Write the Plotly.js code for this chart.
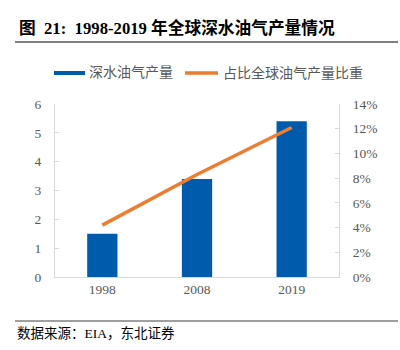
<!DOCTYPE html>
<html>
<head>
<meta charset="utf-8">
<script src="https://cdn.plot.ly/plotly-3.0.1.min.js"></script>
<style>html,body{margin:0;padding:0;background:#fff;}#chart{width:400px;height:350px;}</style>
</head>
<body>
<div id="chart"></div>
<script>
const years = ['1998', '2008', '2019'];
const deepwaterOutput = [1.5, 3.4, 5.4];
const shareOfGlobal = [0.042, 0.083, 0.121];
const leftTicks = [0, 1, 2, 3, 4, 5, 6];
const rightTicks = [0, 0.02, 0.04, 0.06, 0.08, 0.10, 0.12, 0.14];
const titleText = '图  21:  1998-2019 年全球深水油气产量情况';
const seriesNames = ['深水油气产量', '占比全球油气产量比重'];
const sourceText = '数据来源：EIA，东北证券';

const BLUE = '#005BAC', ORANGE = '#ED7D31', AXIS = '#D9D9D9', TXT = '#595959';
// plot area pixel geometry helpers
const L = 55, R = 339, T = 104, B = 277;
const px = x => (x - L) / (R - L);
const py = y => (B - y) / (B - T);
const tickFont = {family: 'Liberation Serif, Times New Roman, serif', size: 13.5, color: TXT};
const cjk = 'Liberation Serif, Noto Sans CJK SC, serif';

const traces = [
  {type: 'bar', x: years, y: deepwaterOutput, name: seriesNames[0],
   marker: {color: BLUE}, yaxis: 'y', hoverinfo: 'skip'},
  {type: 'scatter', mode: 'lines', x: years, y: shareOfGlobal, name: seriesNames[1],
   line: {color: ORANGE, width: 3.5}, yaxis: 'y2', hoverinfo: 'skip'}
];

const layout = {
  width: 400, height: 350,
  margin: {l: L, r: 400 - R, t: T, b: 350 - B, pad: 0},
  paper_bgcolor: '#fff', plot_bgcolor: '#fff',
  showlegend: false,
  bargap: 0.68,
  xaxis: {type: 'category', showline: true, linecolor: AXIS, linewidth: 1,
          ticks: '', tickfont: tickFont, showgrid: false, zeroline: false, fixedrange: true},
  yaxis: {range: [0, 6], tickvals: leftTicks, showline: true, linecolor: AXIS, linewidth: 1,
          ticks: 'inside', ticklen: 4, tickcolor: AXIS, tickfont: tickFont,
          showgrid: false, zeroline: false, ticklabelstandoff: 10},
  yaxis2: {range: [0, 0.14], tickvals: rightTicks, tickformat: '.0%', overlaying: 'y', side: 'right',
           showline: true, linecolor: AXIS, linewidth: 1, ticks: 'inside', ticklen: 4, tickcolor: AXIS,
           tickfont: tickFont, showgrid: false, zeroline: false, ticklabelstandoff: 10},
  shapes: [
    {type: 'line', xref: 'paper', yref: 'paper', x0: px(15), x1: px(398), y0: py(42), y1: py(42),
     line: {color: '#7F7F7F', width: 2}},
    {type: 'rect', xref: 'paper', yref: 'paper', x0: px(54), x1: px(85), y0: py(75), y1: py(71),
     fillcolor: BLUE, line: {width: 0}},
    {type: 'line', xref: 'paper', yref: 'paper', x0: px(185), x1: px(218), y0: py(73), y1: py(73),
     line: {color: ORANGE, width: 3.5}},
    {type: 'line', xref: 'paper', yref: 'paper', x0: px(15), x1: px(398), y0: py(321), y1: py(321),
     line: {color: '#404040', width: 1}}
  ],
  annotations: [
    {xref: 'paper', yref: 'paper', x: px(17), y: py(28), xanchor: 'left', yanchor: 'middle',
     text: '<b>' + titleText + '</b>', showarrow: false,
     font: {family: cjk, size: 16.7, color: '#000'}},
    {xref: 'paper', yref: 'paper', x: px(87), y: py(73), xanchor: 'left', yanchor: 'middle',
     text: seriesNames[0], showarrow: false, font: {family: cjk, size: 14, color: TXT}},
    {xref: 'paper', yref: 'paper', x: px(221), y: py(73), xanchor: 'left', yanchor: 'middle',
     text: seriesNames[1], showarrow: false, font: {family: cjk, size: 14, color: TXT}},
    {xref: 'paper', yref: 'paper', x: px(15), y: py(333), xanchor: 'left', yanchor: 'middle',
     text: sourceText, showarrow: false, font: {family: cjk, size: 13.5, color: '#000'}}
  ]
};

Plotly.newPlot('chart', traces, layout, {displayModeBar: false, staticPlot: true});
</script>
</body>
</html>
